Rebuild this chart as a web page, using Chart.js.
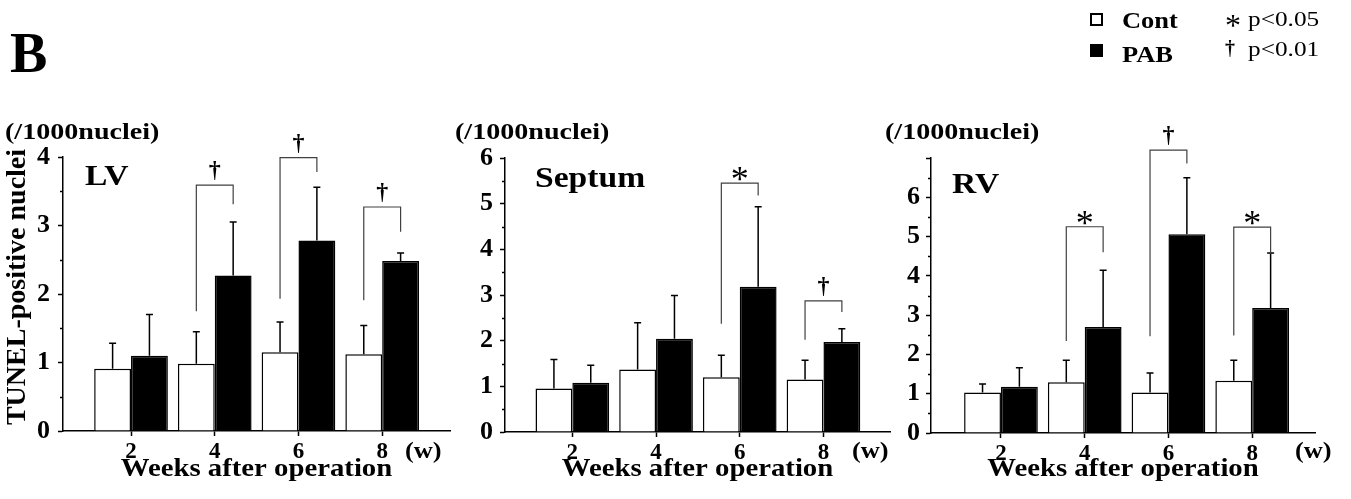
<!DOCTYPE html>
<html>
<head>
<meta charset="utf-8">
<script src="https://cdn.jsdelivr.net/npm/chart.js@4.4.1/dist/chart.umd.min.js"></script>
<style>
  html, body { margin: 0; padding: 0; background: #fff; }
  body { width: 1351px; height: 499px; position: relative; overflow: hidden; }
  canvas { position: absolute; left: 0; top: 0; }
</style>
</head>
<body>
<canvas id="lv" width="1351" height="499"></canvas>
<canvas id="septum" width="1351" height="499"></canvas>
<canvas id="rv" width="1351" height="499"></canvas>
<script>
// Weeks after operation (x categories)
const weeks = [2, 4, 6, 8];

// TUNEL-positive nuclei per 1000 nuclei: mean and SD, Cont vs PAB
const lvCont    = [0.91, 0.98, 1.15, 1.12];
const lvContSD  = [0.37, 0.47, 0.44, 0.42];
const lvPab     = [1.10, 2.27, 2.78, 2.48];
const lvPabSD   = [0.60, 0.78, 0.78, 0.12];

const septumCont   = [0.95, 1.37, 1.20, 1.15];
const septumContSD = [0.64, 1.02, 0.48, 0.42];
const septumPab    = [1.08, 2.04, 3.18, 1.97];
const septumPabSD  = [0.38, 0.95, 1.75, 0.29];

const rvCont   = [1.03, 1.29, 1.03, 1.33];
const rvContSD = [0.22, 0.56, 0.50, 0.52];
const rvPab    = [1.18, 2.70, 5.06, 3.18];
const rvPabSD  = [0.48, 1.44, 1.44, 1.40];

// Significance brackets: week, marker, bracket level, left/right leg ends (axis units)
const lvSig = [
  { week: 4, mark: '†', top: 3.59, left: 1.75, right: 3.31 },
  { week: 6, mark: '†', top: 3.99, left: 1.93, right: 3.78 },
  { week: 8, mark: '†', top: 3.27, left: 1.91, right: 2.91 }
];
const septumSig = [
  { week: 6, mark: '*', top: 5.45, left: 2.37, right: 5.18 },
  { week: 8, mark: '†', top: 2.87, left: 2.02, right: 2.63 }
];
const rvSig = [
  { week: 4, mark: '*', top: 5.25, left: 2.34, right: 4.60 },
  { week: 6, mark: '†', top: 7.20, left: 2.46, right: 6.86 },
  { week: 8, mark: '*', top: 5.24, left: 2.48, right: 4.56 }
];

// Y-axis tick labels shown on each panel
const lvYTicks = [0, 1, 2, 3, 4];
const septumYTicks = [0, 1, 2, 3, 4, 5, 6];
const rvYTicks = [0, 1, 2, 3, 4, 5, 6];

const W = 1351, H = 499;
const SERIF = '"Liberation Serif", "Times New Roman", Times, serif';
Chart.defaults.font.family = SERIF;
Chart.defaults.color = '#000';

// The figure's typeface is set a little wide, so text is drawn with a horizontal stretch
function wideText(ctx, text, x, y, font, sx, align) {
  ctx.save();
  ctx.font = font;
  ctx.textBaseline = 'alphabetic';
  ctx.textAlign = 'left';
  const w = ctx.measureText(text).width * sx;
  let x0 = x;
  if (align === 'center') x0 = x - w / 2;
  ctx.translate(x0, y);
  ctx.scale(sx, 1);
  ctx.fillText(text, 0, 0);
  ctx.restore();
}

const panels = [
  { id: 'lv', name: 'LV', cont: lvCont, contSD: lvContSD, pab: lvPab, pabSD: lvPabSD, sig: lvSig,
    yTicks: lvYTicks, yMax: 4, xRange: [0.375, 9.62],
    area: { left: 63, right: 450, top: 157, bottom: 431 },
    yWidth: 62, tickPad: 8, yTitle: true,
    unitX: 5, nameX: 85, nameY: 185, wX: 405 },
  { id: 'septum', name: 'Septum', cont: septumCont, contSD: septumContSD, pab: septumPab, pabSD: septumPabSD, sig: septumSig,
    yTicks: septumYTicks, yMax: 6, xRange: [0.391, 9.59],
    area: { left: 505, right: 890, top: 158, bottom: 432 },
    yWidth: 45, tickPad: 7, yTitle: false,
    unitX: 455, nameX: 535, nameY: 187, wX: 852 },
  { id: 'rv', name: 'RV', cont: rvCont, contSD: rvContSD, pab: rvPab, pabSD: rvPabSD, sig: rvSig,
    yTicks: rvYTicks, yMax: 7, xRange: [0.329, 9.50],
    area: { left: 931, right: 1315, top: 158, bottom: 433 },
    yWidth: 45, tickPad: 6, yTitle: false,
    unitX: 885, nameX: 952, nameY: 193, wX: 1295 }
];

// Figure letter, key and shared y-axis title, drawn once on the first panel's canvas
const figureKey = {
  id: 'figureKey',
  afterDraw(chart) {
    const ctx = chart.ctx;
    ctx.save();
    ctx.fillStyle = '#000';
    ctx.strokeStyle = '#000';
    wideText(ctx, 'B', 10, 72, 'bold 56px ' + SERIF, 1.0);

    ctx.lineWidth = 2;
    ctx.strokeRect(1091, 14, 11, 11);
    ctx.fillRect(1090, 44, 13, 13);
    wideText(ctx, 'Cont', 1122, 28, 'bold 23px ' + SERIF, 1.15);
    wideText(ctx, 'PAB', 1122, 62, 'bold 23px ' + SERIF, 1.15);

    wideText(ctx, '*', 1225, 36, '32px ' + SERIF, 1.0);
    wideText(ctx, '†', 1225, 55, 'bold 20px ' + SERIF, 1.0);
    wideText(ctx, 'p<0.05', 1248, 26, '22px ' + SERIF, 1.15);
    wideText(ctx, 'p<0.01', 1248, 56, '22px ' + SERIF, 1.15);

    // rotated y-axis title
    ctx.translate(18, 287);
    ctx.rotate(-Math.PI / 2);
    ctx.font = 'bold 28px ' + SERIF;
    ctx.textAlign = 'center';
    ctx.textBaseline = 'middle';
    ctx.fillText('TUNEL-positive nuclei', 0, 0);
    ctx.restore();
  }
};

function makePanel(p) {
  const marks = {
    id: 'panelMarks',
    afterDatasetsDraw(chart) {
      const ctx = chart.ctx;
      const ys = chart.scales.y;
      const metaC = chart.getDatasetMeta(0);
      const metaP = chart.getDatasetMeta(1);
      ctx.save();
      // error bars (mean + SD)
      ctx.strokeStyle = '#000';
      ctx.lineWidth = 1.5;
      [[metaC, p.cont, p.contSD], [metaP, p.pab, p.pabSD]].forEach(([meta, mean, sd]) => {
        meta.data.forEach((bar, i) => {
          const y0 = ys.getPixelForValue(mean[i]);
          const y1 = ys.getPixelForValue(mean[i] + sd[i]);
          ctx.beginPath();
          ctx.moveTo(bar.x, y0);
          ctx.lineTo(bar.x, y1);
          ctx.moveTo(bar.x - 3.5, y1);
          ctx.lineTo(bar.x + 3.5, y1);
          ctx.stroke();
        });
      });
      // significance brackets
      ctx.strokeStyle = '#404040';
      ctx.lineWidth = 1.2;
      ctx.fillStyle = '#000';
      p.sig.forEach(s => {
        const i = weeks.indexOf(s.week);
        const xl = metaC.data[i].x, xr = metaP.data[i].x;
        const yt = ys.getPixelForValue(s.top);
        ctx.beginPath();
        ctx.moveTo(xl, ys.getPixelForValue(s.left));
        ctx.lineTo(xl, yt);
        ctx.lineTo(xr, yt);
        ctx.lineTo(xr, ys.getPixelForValue(s.right));
        ctx.stroke();
        const xm = (xl + xr) / 2;
        if (s.mark === '†') {
          wideText(ctx, '†', xm, yt - 8, 'bold 24px ' + SERIF, 1.0, 'center');
        } else {
          wideText(ctx, '*', xm, yt + 8, '36px ' + SERIF, 1.0, 'center');
        }
      });
      ctx.restore();
    },
    afterDraw(chart) {
      const ctx = chart.ctx;
      const ys = chart.scales.y;
      const a = chart.chartArea;
      ctx.save();
      // half-unit minor ticks on the y axis
      ctx.strokeStyle = '#000';
      ctx.lineWidth = 1.5;
      ctx.beginPath();
      for (let v = 0.5; v < p.yMax; v += 1) {
        const py = Math.round(ys.getPixelForValue(v)) + 0.5;
        ctx.moveTo(a.left - 3, py);
        ctx.lineTo(a.left, py);
      }
      ctx.stroke();
      // panel texts
      ctx.fillStyle = '#000';
      wideText(ctx, '(/1000nuclei)', p.unitX, 139, 'bold 24px ' + SERIF, 1.17);
      wideText(ctx, p.name, p.nameX, p.nameY, 'bold 30px ' + SERIF, 1.12);
      wideText(ctx, '(w)', p.wX, 458, 'bold 24px ' + SERIF, 1.1);
      wideText(ctx, 'Weeks after operation', (a.left + a.right) / 2, 476, 'bold 25px ' + SERIF, 1.15, 'center');
      ctx.restore();
    }
  };

  const plugins = [marks];
  if (p.id === 'lv') plugins.push(figureKey);

  return new Chart(document.getElementById(p.id), {
    type: 'bar',
    data: {
      datasets: [
        { label: 'Cont', data: weeks.map((w, i) => ({ x: w, y: p.cont[i] })),
          backgroundColor: '#fff', borderColor: '#000', borderWidth: 1.5 },
        { label: 'PAB', data: weeks.map((w, i) => ({ x: w, y: p.pab[i] })),
          backgroundColor: '#000', borderColor: '#000', borderWidth: 1.5 }
      ]
    },
    options: {
      responsive: false,
      animation: false,
      devicePixelRatio: 1,
      events: [],
      categoryPercentage: 0.88,
      barPercentage: 1.0,
      layout: { padding: { left: p.area.left - p.yWidth, right: W - p.area.right, top: p.area.top, bottom: 0 } },
      plugins: { legend: { display: false }, tooltip: { enabled: false } },
      scales: {
        x: {
          type: 'linear',
          bounds: 'data',
          offset: false,
          min: p.xRange[0],
          max: p.xRange[1],
          afterBuildTicks: s => { s.ticks = weeks.map(v => ({ value: v })); },
          afterFit: s => { s.height = H - p.area.bottom; },
          grid: { display: true, drawOnChartArea: false, drawTicks: true, tickLength: 5, tickColor: '#000', tickWidth: 1.5, offset: false },
          border: { display: true, color: '#000', width: 1.5 },
          ticks: { font: { size: 23, weight: 'bold' }, padding: 2, color: '#000', maxRotation: 0, autoSkip: false,
                   callback: v => String(v) }
        },
        y: {
          min: 0,
          max: p.yMax,
          afterFit: s => { s.width = p.yWidth; },
          grid: { display: true, drawOnChartArea: false, drawTicks: true, tickLength: 5, tickColor: '#000', tickWidth: 1.5 },
          border: { display: true, color: '#000', width: 1.5 },
          ticks: { stepSize: 1, font: { size: 26, weight: 'bold' }, padding: p.tickPad, color: '#000',
                   callback: v => (p.yTicks.includes(v) ? String(v) : '') }
        }
      }
    },
    plugins
  });
}

panels.forEach(makePanel);
</script>
</body>
</html>
